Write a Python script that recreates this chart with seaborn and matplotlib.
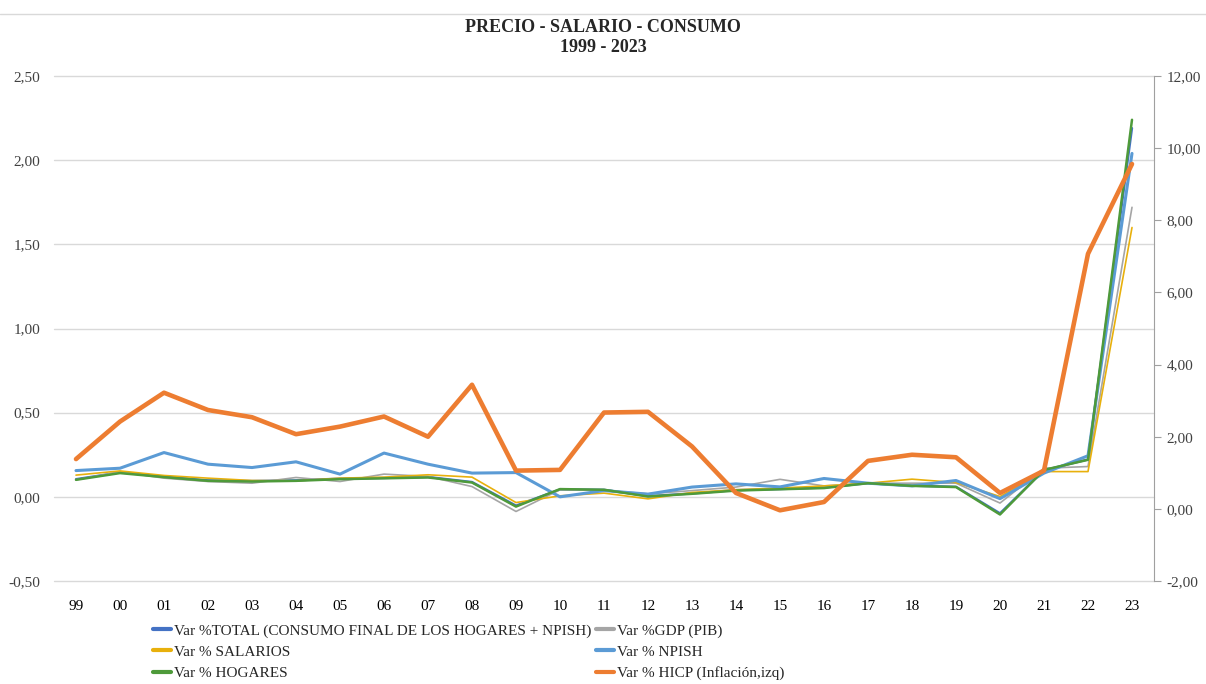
import numpy as np
import seaborn as sns
import matplotlib.pyplot as plt
from matplotlib.lines import Line2D
from matplotlib.ticker import FuncFormatter

years = ['99', '00', '01', '02', '03', '04', '05', '06', '07', '08', '09', '10', '11',
         '12', '13', '14', '15', '16', '17', '18', '19', '20', '21', '22', '23']

total = [0.105, 0.145, 0.12, 0.098, 0.094, 0.098, 0.108, 0.112, 0.118, 0.088, -0.052, 0.044, 0.042,
         0.004, 0.02, 0.04, 0.046, 0.055, 0.081, 0.066, 0.06, -0.098, 0.158, 0.222, 2.19]
gdp = [0.101, 0.149, 0.111, 0.091, 0.081, 0.115, 0.091, 0.135, 0.121, 0.061, -0.087, 0.042, 0.039,
       0.018, 0.037, 0.058, 0.104, 0.065, 0.081, 0.081, 0.081, -0.037, 0.170, 0.180, 1.72]
salarios = [0.129, 0.154, 0.127, 0.111, 0.097, 0.095, 0.111, 0.117, 0.131, 0.117, -0.034, 0.006, 0.022,
            -0.012, 0.026, 0.042, 0.052, 0.065, 0.081, 0.105, 0.085, 0.002, 0.150, 0.150, 1.60]
npish = [0.156, 0.170, 0.263, 0.194, 0.174, 0.208, 0.135, 0.260, 0.194, 0.141, 0.144, 0.0, 0.037,
         0.016, 0.058, 0.077, 0.059, 0.109, 0.081, 0.065, 0.097, -0.011, 0.141, 0.244, 2.04]
hogares = [0.101, 0.141, 0.117, 0.095, 0.091, 0.095, 0.105, 0.11, 0.115, 0.085, -0.058, 0.046, 0.042,
           0.002, 0.018, 0.037, 0.045, 0.052, 0.081, 0.065, 0.058, -0.105, 0.160, 0.220, 2.24]
hicp = [1.38, 2.42, 3.22, 2.74, 2.54, 2.07, 2.28, 2.56, 2.00, 3.44, 1.06, 1.08, 2.67,
        2.69, 1.73, 0.44, -0.04, 0.19, 1.33, 1.50, 1.43, 0.44, 1.06, 7.07, 9.56]

sns.set_style("white")
plt.rcParams['font.family'] = ['Liberation Serif', 'DejaVu Serif']

x = np.arange(len(years))
fig = plt.figure(figsize=(12.06, 6.84), dpi=100)
ax = fig.add_axes([54 / 1206, 1 - 581 / 684, 1100 / 1206, 505 / 684])
ax2 = ax.twinx()

sns.lineplot(x=x, y=total, ax=ax, color='#4472C4', linewidth=1.7, label='Var %TOTAL (CONSUMO FINAL DE LOS HOGARES + NPISH)')
sns.lineplot(x=x, y=gdp, ax=ax, color='#A5A5A5', linewidth=1.2, label='Var %GDP (PIB)')
sns.lineplot(x=x, y=salarios, ax=ax, color='#E8B00C', linewidth=1.2, label='Var % SALARIOS')
sns.lineplot(x=x, y=npish, ax=ax, color='#5B9BD5', linewidth=2.2, label='Var % NPISH')
sns.lineplot(x=x, y=hogares, ax=ax, color='#4E9A3A', linewidth=1.8, label='Var % HOGARES')
sns.lineplot(x=x, y=hicp, ax=ax2, color='#ED7D31', linewidth=3.3, label='Var % HICP (Inflación,izq)')

ax.set_xlim(-0.5, len(years) - 0.5)
ax.set_ylim(-0.5, 2.5)
ax2.set_ylim(-2, 12)
ax.set_yticks(np.arange(-0.5, 2.51, 0.5))
ax2.set_yticks(np.arange(-2, 12.1, 2))
fmt = FuncFormatter(lambda v, p: f'{v:.2f}'.replace('.', ','))
ax.yaxis.set_major_formatter(fmt)
ax2.yaxis.set_major_formatter(fmt)
ax.set_xticks(x)
ax.set_xticklabels(years)

ax.grid(axis='y', color='#D9D9D9', linewidth=1)
for g in ax.get_ygridlines():
    g.set_clip_on(False)
for s in ['left', 'top', 'bottom', 'right']:
    ax.spines[s].set_visible(False)
    ax2.spines[s].set_visible(False)
ax2.spines['right'].set_visible(True)
ax2.spines['right'].set_color('#A0A0A0')
ax.tick_params(axis='both', length=0, labelsize=11, colors='#404040', pad=10)
ax.tick_params(axis='x', pad=14, colors='black')
ax2.tick_params(axis='y', length=5, color='#A0A0A0', labelsize=11, labelcolor='#404040', direction='out', pad=4)
ax.set_xlabel('')

h1, l1 = ax.get_legend_handles_labels()
h2, l2 = ax2.get_legend_handles_labels()
ax2.get_legend().remove()
ax.get_legend().remove()
hs = h1 + h2
ls = l1 + l2
order = [0, 2, 4, 1, 3, 5]
handles = [Line2D([], [], color=hs[i].get_color(), linewidth=3) for i in order]
fig.legend(handles, [ls[i] for i in order], ncol=2, loc='upper left',
           bbox_to_anchor=(145 / 1206, 1 - 616 / 684), frameon=False, fontsize=11,
           handlelength=1.2, handletextpad=0.2, columnspacing=0.3, labelspacing=0.5,
           borderpad=0)

fig.text(0.5, 1 - 27 / 684, 'PRECIO - SALARIO - CONSUMO', ha='center', va='center', fontsize=13, fontweight='bold')
fig.text(0.5, 1 - 47 / 684, '1999 - 2023', ha='center', va='center', fontsize=13, fontweight='bold')
fig.add_artist(Line2D([0, 1], [1 - 14 / 684, 1 - 14 / 684], color='#D9D9D9', linewidth=1))

fig.savefig('out.png', dpi=100)
